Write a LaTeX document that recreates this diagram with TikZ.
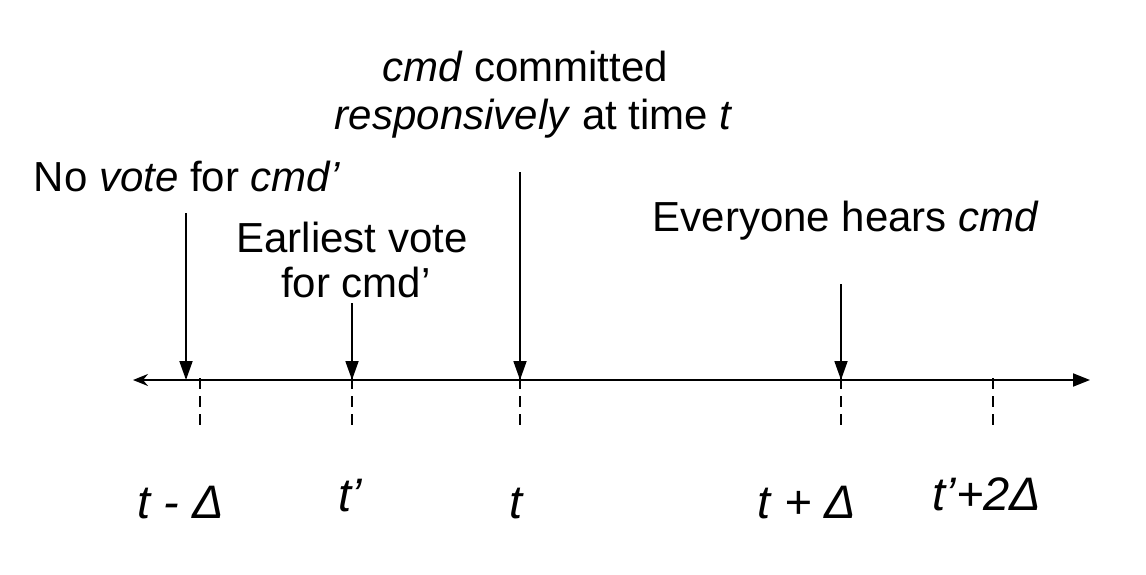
\documentclass[tikz,border=0pt]{standalone}
\usepackage{fontspec}
\setmainfont{Liberation Sans}
\usetikzlibrary{arrows.meta}
\begin{document}
\begin{tikzpicture}[x=1pt,y=-1pt,
  lbl/.style={font=\fontsize{42}{46}\selectfont, inner sep=0pt, anchor=base},
  tlbl/.style={font=\fontsize{47}{50}\selectfont\itshape, inner sep=0pt, anchor=base},
  axisline/.style={line width=2pt},
  evarrow/.style={line width=1.8pt, -{Triangle[length=19pt,width=13pt]}},
  tickline/.style={line width=2pt, dash pattern=on 11pt off 7pt}]
\useasboundingbox[fill=white] (0,0) rectangle (1146,574);
% axis
\coordinate (L) at (133,380);
\coordinate (R) at (1090,380);
\draw[axisline, {Stealth[length=15pt,width=12pt,inset=5pt]}-{Triangle[length=17pt,width=13pt]}] (L) -- (R);
% dashed ticks
\coordinate (k1a) at (200,378); \coordinate (k1b) at (200,426);
\coordinate (k2a) at (352,378); \coordinate (k2b) at (352,426);
\coordinate (k3a) at (520,378); \coordinate (k3b) at (520,426);
\coordinate (k4a) at (841,378); \coordinate (k4b) at (841,426);
\coordinate (k5a) at (993,378); \coordinate (k5b) at (993,426);
\foreach \i in {1,...,5} {\draw[tickline] (k\i a) -- (k\i b);}
% event arrows
\coordinate (a1) at (186,213); \coordinate (b1) at (186,380);
\coordinate (a2) at (352,303); \coordinate (b2) at (352,380);
\coordinate (a3) at (520,172); \coordinate (b3) at (520,380);
\coordinate (a4) at (841,284); \coordinate (b4) at (841,380);
\foreach \i in {1,...,4} {\draw[evarrow] (a\i) -- (b\i);}
% top labels
\node[lbl] (c1) at (525,81) {\textit{cmd} committed};
\node[lbl] (c2) at (534,129) {\textit{responsively} at time \textit{t}};
\node[lbl] (nv) at (187,191) {No \textit{vote} for \textit{cmd’}};
\node[lbl] (ev1) at (352,252) {Earliest vote};
\node[lbl] (ev2) at (356,297) {for cmd’};
\node[lbl] (eh) at (846,231) {Everyone hears \textit{cmd}};
% bottom labels
\node[tlbl] (t1) at (181,518) {t - Δ};
\node[tlbl] (t2) at (350,511) {t’};
\node[tlbl] (t3) at (516,518) {t};
\node[tlbl] (t4) at (807,518) {t + Δ};
\node[tlbl] (t5) at (987,510) {t’+2Δ};
\end{tikzpicture}
\end{document}
